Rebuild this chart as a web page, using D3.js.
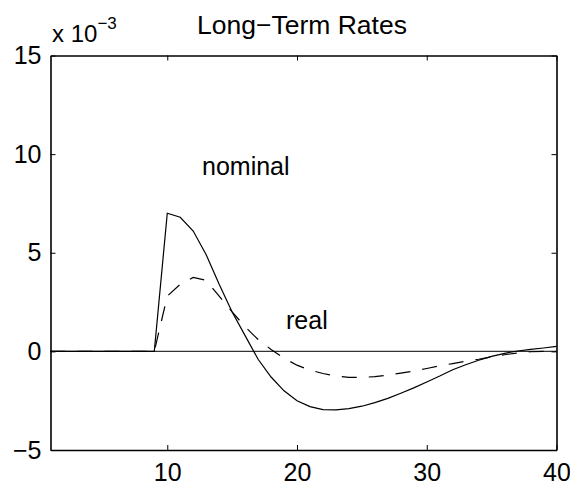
<!DOCTYPE html>
<meta charset="utf-8">
<style>
  body { margin: 0; background: #fff; }
  svg text { font-family: Arial, "Liberation Sans", sans-serif; fill: #000; }
</style>
<body>
<svg width="570" height="488"></svg>
<script src="https://d3js.org/d3.v7.min.js"></script>
<script>
// data (values in units of 1e-3)
var periods = d3.range(1, 41);
var nominal = [0, 0, 0, 0, 0, 0, 0, 0, 0,
  7.0, 6.8, 6.1, 4.9, 3.4, 2.0, 0.8, -0.4, -1.3, -2.0, -2.5,
  -2.8, -2.95, -2.97, -2.9, -2.78, -2.6, -2.38, -2.12, -1.85, -1.55,
  -1.25, -0.93, -0.68, -0.45, -0.25, -0.1, 0.02, 0.1, 0.17, 0.25];
var real = [0, 0, 0, 0, 0, 0, 0, 0, 0,
  2.8, 3.4, 3.75, 3.6, 2.8, 2.0, 1.25, 0.6, 0.1, -0.35, -0.7,
  -0.95, -1.12, -1.25, -1.32, -1.32, -1.28, -1.2, -1.1, -1.0, -0.87,
  -0.73, -0.62, -0.5, -0.4, -0.28, -0.17, -0.08, -0.02, 0.0, 0.02];
var xTicks = [10, 20, 30, 40];
var yTicks = [-5, 0, 5, 10, 15];

var mLeft = 50.5, mRight = 556.5, mTop = 55.5, mBottom = 450;
var fs = 25;

var svg = d3.select("svg");
var x = d3.scaleLinear().domain([1, 40]).range([mLeft, mRight]);
var y = d3.scaleLinear().domain([-5, 15]).range([mBottom, mTop]);

// zero line
svg.append("line")
  .attr("x1", mLeft).attr("x2", mRight)
  .attr("y1", y(0)).attr("y2", y(0))
  .attr("stroke", "#333").attr("stroke-width", 1.2);

var line = d3.line()
  .x(function (d, i) { return x(periods[i]); })
  .y(function (d) { return y(d); });

svg.append("path").datum(nominal)
  .attr("d", line).attr("fill", "none")
  .attr("stroke", "#000").attr("stroke-width", 1.2);

svg.append("path").datum(real)
  .attr("d", line).attr("fill", "none")
  .attr("stroke", "#000").attr("stroke-width", 1.2)
  .attr("stroke-dasharray", "15,12");

// axes (MATLAB style box, ticks inside)
var fmt = function (d) { return d < 0 ? "\u2212" + Math.abs(d) : d; };
var bottomAxis = d3.axisBottom(x).tickValues(xTicks).tickSizeInner(-5).tickSizeOuter(0).tickPadding(13).tickFormat(fmt);
var topAxis = d3.axisTop(x).tickValues(xTicks).tickSizeInner(-5).tickSizeOuter(0).tickFormat("");
var leftAxis = d3.axisLeft(y).tickValues(yTicks).tickSizeInner(-5).tickSizeOuter(0).tickPadding(9).tickFormat(fmt);
var rightAxis = d3.axisRight(y).tickValues(yTicks).tickSizeInner(-5).tickSizeOuter(0).tickFormat("");

function style(g) {
  g.select(".domain").attr("stroke", "#000").attr("stroke-width", 1.6);
  g.selectAll(".tick line").attr("stroke", "#000").attr("stroke-width", 1);
  g.selectAll(".tick text").attr("font-size", fs).attr("font-family", "Arial, 'Liberation Sans', sans-serif");
}

svg.append("g").attr("transform", "translate(0," + mBottom + ")").call(bottomAxis).call(style);
svg.append("g").attr("transform", "translate(0," + mTop + ")").call(topAxis).call(style);
svg.append("g").attr("transform", "translate(" + mLeft + ",0)").call(leftAxis).call(style);
svg.append("g").attr("transform", "translate(" + mRight + ",0)").call(rightAxis).call(style);

// exponent label
var ex = svg.append("text").attr("x", 52).attr("y", 42).attr("font-size", 24);
ex.append("tspan").text("x 10");
ex.append("tspan").attr("dy", -13).attr("font-size", 17).text("\u22123");

// title
svg.append("text").attr("x", 302).attr("y", 34)
  .attr("text-anchor", "middle").attr("font-size", 26.5)
  .text("Long\u2212Term Rates");

// annotations
svg.append("text").attr("x", 202).attr("y", 175).attr("font-size", fs).text("nominal");
svg.append("text").attr("x", 286).attr("y", 329).attr("font-size", fs).text("real");
</script>
</body>
